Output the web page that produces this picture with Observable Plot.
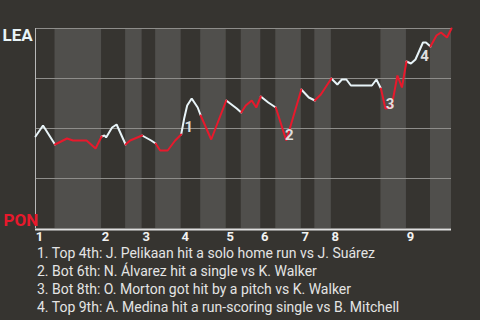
<!DOCTYPE html>
<html><head><meta charset="utf-8">
<script src="https://cdn.jsdelivr.net/npm/d3@7"></script>
<script src="https://cdn.jsdelivr.net/npm/@observablehq/plot@0.6"></script>
<style>
html,body{margin:0;padding:0;background:#363430;}
#chart{width:480px;height:320px;overflow:hidden;}
#chart svg{display:block;}
.cap{font-family:Roboto,sans-serif;font-size:14px;color:#e4e4e4;line-height:18px;padding-left:37px;margin:0;white-space:nowrap;}
</style></head><body><div id="chart"></div>
<script>
// Innings and half-inning boundaries (pitch number)
const innings = ["1","2","3","4","5","6","7","8","9"];
const topStart = [0,44,71,97,127,150,177,197,247];
const botStart = [13,60,80,110,137,160,186,230,263];
const lastPitch = 277;

// Win probability for LEA by pitch
const pitch = [0,5,13,21,25,34,40,44,46,47,51,54,60,63,71,77,80,83,88,93,97,99,101,104,108,110,117,127,134,137,140,144,147,150,155,160,167,177,182,186,190,197,201,204,207,210,224,227,230,233,237,241,244,247,250,253,258,260,263,267,270,274,277];
const winProb = [0.46,0.515,0.42,0.45,0.44,0.44,0.40,0.46,0.465,0.455,0.505,0.52,0.42,0.44,0.465,0.44,0.425,0.39,0.39,0.44,0.47,0.55,0.615,0.65,0.605,0.565,0.445,0.64,0.60,0.58,0.615,0.64,0.605,0.66,0.63,0.605,0.44,0.695,0.655,0.64,0.67,0.75,0.72,0.745,0.745,0.715,0.715,0.745,0.70,0.60,0.605,0.765,0.705,0.835,0.825,0.845,0.93,0.93,0.91,0.965,0.98,0.955,1.0];

// Key events
const eventNum = ["1","2","3","4"];
const eventX = [102,169,236,259];
const eventP = [0.505,0.465,0.62,0.86];
const captions = [
  "1. Top 4th: J. Pelikaan hit a solo home run vs J. Suárez",
  "2. Bot 6th: N. Álvarez hit a single vs K. Walker",
  "3. Bot 8th: O. Morton got hit by a pitch vs K. Walker",
  "4. Top 9th: A. Medina hit a run-scoring single vs B. Mitchell"
];

const teams = ["LEA","PON"];
const teamColors = ["#e8f4f8","#e8192c"];

// Build tables for the library
const pts = pitch.map((x,i)=>({x, p: winProb[i]}));
const topSeg = [], botSeg = [], bands = [];
innings.forEach((inn,i)=>{
  const t0 = topStart[i], t1 = botStart[i], b1 = i+1<innings.length ? topStart[i+1] : lastPitch;
  pts.filter(d=>d.x>=t0 && d.x<=t1).forEach(d=>topSeg.push({...d, h:"T"+inn}));
  pts.filter(d=>d.x>=t1 && d.x<=b1).forEach(d=>botSeg.push({...d, h:"B"+inn}));
  bands.push({x1:t1, x2:b1});
});
const ticks = topStart.map((x,i)=>({x, label: innings[i]}));
const events = eventNum.map((n,i)=>({n, x:eventX[i], p:eventP[i]}));

const chart = Plot.plot({
  width: 480, height: 244,
  marginLeft: 35, marginRight: 29, marginTop: 28, marginBottom: 16,
  x: {domain: [0, lastPitch], axis: null},
  y: {domain: [0, 1], axis: null},
  style: {background: "#363430", fontFamily: "Roboto, sans-serif", overflow: "visible"},
  marks: [
    Plot.rect(bands, {x1: "x1", x2: "x2", y1: 0, y2: 1, fill: "#504f4c"}),
    Plot.ruleY([0.25, 0.5, 0.75, 1], {stroke: "#8e8d8a", strokeWidth: 1}),
    Plot.ruleX([0], {y1: 0, y2: 1, stroke: "#b8b8b8", strokeWidth: 1}),
    Plot.ruleY([0], {stroke: "#dedede", strokeWidth: 2, dy: 1}),
    Plot.line(topSeg, {x: "x", y: "p", z: "h", stroke: teamColors[0], strokeWidth: 2, strokeLinejoin: "miter", strokeLinecap: "round"}),
    Plot.line(botSeg, {x: "x", y: "p", z: "h", stroke: teamColors[1], strokeWidth: 2, strokeLinejoin: "miter", strokeLinecap: "round"}),
    Plot.text(events, {x: "x", y: "p", text: "n", fill: "#dedede", fontSize: 15, fontWeight: "bold"}),
    Plot.text(ticks, {x: "x", text: "label", frameAnchor: "bottom", lineAnchor: "top", dy: 3, dx: 4, fill: "#f2f2f2", fontSize: 13, fontWeight: "bold"}),
    Plot.text([teams[0]], {y: [1], text: d=>d, frameAnchor: "left", textAnchor: "start", lineAnchor: "top", dx: -33, fill: teamColors[0], fontSize: 17, fontWeight: "bold"}),
    Plot.text([teams[1]], {y: [0], text: d=>d, frameAnchor: "left", textAnchor: "start", lineAnchor: "bottom", dx: -32, dy: -3, fill: teamColors[1], fontSize: 17, fontWeight: "bold"})
  ]
});
const root = document.getElementById("chart");
root.appendChild(chart);
captions.forEach(c=>{
  const p = document.createElement("p");
  p.className = "cap";
  p.textContent = c;
  root.appendChild(p);
});
</script>
</body></html>
